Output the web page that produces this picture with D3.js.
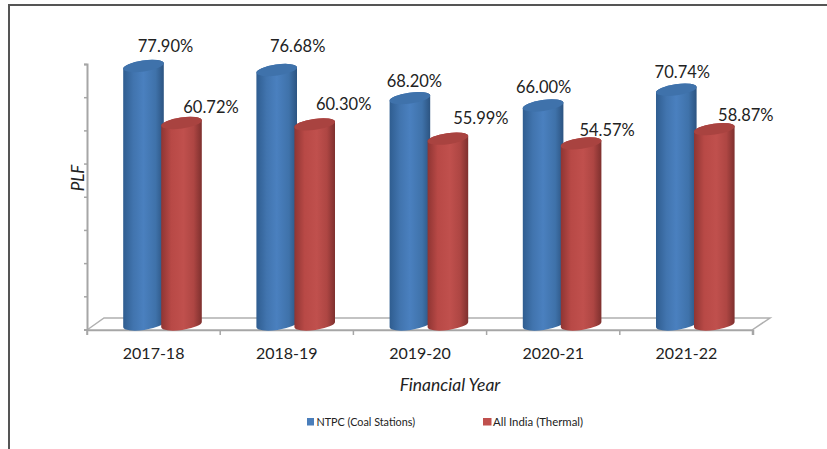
<!DOCTYPE html>
<html lang="en">
<head>
<meta charset="UTF-8">
<title>PLF</title>
<script src="https://d3js.org/d3.v7.min.js"></script>
<style>
  html, body { margin: 0; background: #fff; }
  svg { display: block; }
  text { font-family: Lato, sans-serif; fill: #222; }
</style>
</head>
<body>
<svg width="827" height="449"></svg>
<script>
const years = ["2017-18", "2018-19", "2019-20", "2020-21", "2021-22"];
const ntpc = [77.90, 76.68, 68.20, 66.00, 70.74];
const allIndia = [60.72, 60.30, 55.99, 54.57, 58.87];
const seriesNames = ["NTPC (Coal Stations)", "All India (Thermal)"];
const yTicks = [0, 10, 20, 30, 40, 50, 60, 70, 80];

const svg = d3.select("svg");
const depth = 5;  // base of the cylinders sits this far behind the axis line

const x = d3.scaleBand().domain(years).range([87, 753]);
// centres inside a year band, closer than the cylinder width so red overlaps blue
const series = d3.scalePoint().domain(seriesNames).range([56.5, 94.5]);
const y = d3.scaleLinear().domain([0, 80]).range([324.5, 59]);

// outer frame, only left and top show in the crop
svg.append("path")
  .attr("d", "M9,449V5H827")
  .attr("fill", "none").attr("stroke", "#555").attr("stroke-width", 2);

// gradients for the cylinder shading
const defs = svg.append("defs");
function bodyGradient(id, stops) {
  const g = defs.append("linearGradient").attr("id", id);
  stops.forEach(s => g.append("stop").attr("offset", s[0]).attr("stop-color", s[1]));
}
bodyGradient("blueBody", [[0, "#2f5d90"], [0.25, "#4174ae"], [0.5, "#4a80bf"], [0.8, "#3f72aa"], [1, "#2c5481"]]);
bodyGradient("redBody", [[0, "#8f3533"], [0.25, "#b84946"], [0.55, "#c0504d"], [0.8, "#ae4643"], [1, "#7e302e"]]);

// floor
const floor = svg.append("g").attr("fill", "none").attr("stroke", "#b0b0b0").attr("stroke-width", 1.5);
floor.append("path").attr("d", "M87,330L104,318H770L752,330Z");

// y axis with blank labels
const yAxis = svg.append("g")
  .attr("transform", `translate(87,${depth})`)
  .call(d3.axisLeft(y).tickValues(yTicks).tickSize(3).tickFormat(""));
yAxis.selectAll("path,line").attr("stroke", "#a6a6a6").attr("stroke-width", 1.5);
yAxis.select("path").attr("stroke-width", 2);

// x axis
const xAxis = svg.append("g")
  .attr("transform", "translate(0,330)")
  .call(d3.axisBottom(x).tickSize(5).tickPadding(13));
xAxis.selectAll("path,line").attr("stroke", "#a6a6a6").attr("stroke-width", 1.5);
xAxis.selectAll(".tick line").attr("transform", d => `translate(${-x.bandwidth() / 2},0)`);
xAxis.append("line")
  .attr("x1", 752.5).attr("x2", 752.5).attr("y1", 0).attr("y2", 5)
  .attr("stroke", "#a6a6a6").attr("stroke-width", 1.5);
xAxis.selectAll("text").style("font-size", "16px").style("fill", "#222");

// one cylinder, tilted ellipses on top and bottom
const rx = 20.5, ry = 5.5, tilt = -8;
function cylinder(g, cx, top, bottom, value, body, cap, labelDx, labelY) {
  const a = tilt * Math.PI / 180;
  const dx = rx * Math.cos(a), dy = rx * Math.sin(a);
  g.append("path")
    .attr("d", `M${cx - dx},${top - dy}`
      + `L${cx - dx},${bottom - dy}`
      + `A${rx},${ry} ${tilt} 0 0 ${cx + dx},${bottom + dy}`
      + `L${cx + dx},${top + dy}`
      + `A${rx},${ry} ${tilt} 0 0 ${cx - dx},${top - dy}Z`)
    .attr("fill", `url(#${body})`);
  g.append("ellipse")
    .attr("rx", rx).attr("ry", ry)
    .attr("transform", `translate(${cx},${top}) rotate(${tilt})`)
    .attr("fill", cap);
  g.append("text")
    .attr("x", cx + labelDx).attr("y", labelY)
    .attr("text-anchor", "middle")
    .style("font-size", "16.5px")
    .text(value.toFixed(2) + "%");
}

// data labels were hand placed in the original, so they don't follow the bars exactly
const ntpcLabelY = [52, 52, 87, 93, 78];
const indiaLabelY = [113, 110, 124, 136, 121];
const ntpcLabelDx = [22, 21, 4.5, 0.5, 6];
const indiaLabelDx = [29.5, 29, 33, 26, 31.5];

const bars = svg.append("g");
years.forEach((yr, i) => {
  // blue goes first so the red cylinder overlaps it
  cylinder(bars, x(yr) + series(seriesNames[0]), y(ntpc[i]), y(0), ntpc[i], "blueBody", "#3f72ab", ntpcLabelDx[i], ntpcLabelY[i]);
  cylinder(bars, x(yr) + series(seriesNames[1]), y(allIndia[i]), y(0), allIndia[i], "redBody", "#a94340", indiaLabelDx[i], indiaLabelY[i]);
});

// axis titles
svg.append("text")
  .attr("transform", "translate(84,178) rotate(-90)")
  .attr("text-anchor", "middle")
  .style("font-size", "17px").style("font-style", "italic")
  .text("PLF");
svg.append("text")
  .attr("x", 450).attr("y", 391)
  .attr("text-anchor", "middle")
  .style("font-size", "17.5px").style("font-style", "italic")
  .text("Financial Year");

// legend
const legendX = [307, 483];
const legendColor = ["#4a7ebb", "#c0504d"];
const legendFont = [10.8, 11.4];
const legend = svg.append("g");
seriesNames.forEach((name, i) => {
  legend.append("rect")
    .attr("x", legendX[i]).attr("y", 418).attr("width", i ? 8.5 : 7).attr("height", 7.5)
    .attr("fill", legendColor[i]);
  legend.append("text")
    .attr("x", legendX[i] + (i ? 10 : 9.5)).attr("y", 425.5)
    .style("font-size", legendFont[i] + "px")
    .text(name);
});
</script>
</body>
</html>
